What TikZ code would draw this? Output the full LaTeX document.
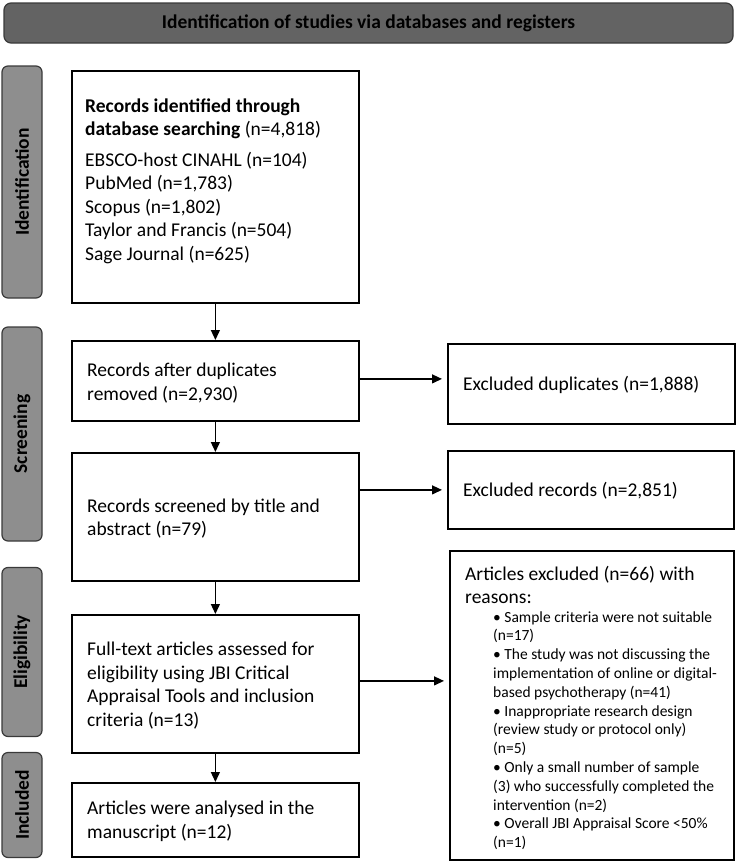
\documentclass[tikz,border=0pt]{standalone}
\usepackage{fontspec}
\setmainfont{Carlito}
\usetikzlibrary{arrows.meta,calc}
\definecolor{hdrgray}{HTML}{636363}
\definecolor{sidegray}{HTML}{8E8E8E}
\definecolor{edgegray}{HTML}{3A3A3A}
\tikzset{
  box/.style={draw=black, line width=1.8pt, fill=white, anchor=north west, inner sep=0pt},
  txt/.style={font=\fontsize{19.5}{23.5}\selectfont, align=left, anchor=west, inner sep=0pt},
  smalltxt/.style={font=\fontsize{15.5}{18.8}\selectfont, align=left, anchor=west, inner sep=0pt},
  hdr/.style={draw=edgegray, fill=hdrgray, line width=1.2pt, rounded corners=7pt,
    font=\bfseries\fontsize{19.5}{22}\selectfont, inner sep=0pt},
  side/.style={draw=edgegray, fill=sidegray, line width=1.2pt, rounded corners=6pt,
    rotate=90, minimum height=40pt, inner sep=0pt,
    font=\bfseries\fontsize{19.5}{22}\selectfont},
  arr/.style={-{Triangle[length=10pt,width=9pt]}, line width=1.3pt},
}
\begin{document}
\begin{tikzpicture}[x=1pt,y=-1pt]
\useasboundingbox (0,0) rectangle (737,862);

% header
\node[hdr, minimum width=729pt, minimum height=40pt] (hdr) at (368.5,23)
  {Identification of studies via databases and registers};

% side labels
\node[side, minimum width=232pt] (sid) at (22,182) {Identification};
\node[side, minimum width=214pt] (sscr) at (22,434) {Screening};
\node[side, minimum width=169pt] (selig) at (22,652) {Eligibility};
\node[side, minimum width=105pt] (sinc) at (22,805) {Included};

% main column boxes
\node[box, minimum width=287pt, minimum height=232pt] (b1) at (71,70) {};
\node[box, minimum width=287pt, minimum height=80pt] (b2) at (71,340) {};
\node[box, minimum width=287pt, minimum height=128pt] (b3) at (71,452) {};
\node[box, minimum width=287pt, minimum height=138pt] (b4) at (71,614) {};
\node[box, minimum width=287pt, minimum height=74pt] (b5) at (71,782) {};

% right column boxes
\node[box, minimum width=287pt, minimum height=80pt] (ed) at (447,343) {};
\node[box, minimum width=286pt, minimum height=78pt] (er) at (447,450) {};
\node[box, minimum width=284pt, minimum height=309pt] (ar) at (449,550) {};

% texts
\node[txt] (b1t) at (85,181)
  {\textbf{Records identified through}\\
   \textbf{database searching} (n=4,818)\\[7pt]
   EBSCO-host CINAHL (n=104)\\
   PubMed (n=1,783)\\
   Scopus (n=1,802)\\
   Taylor and Francis (n=504)\\
   Sage Journal (n=625)};
\node[txt] (b2t) at (87,383) {Records after duplicates\\removed (n=2,930)};
\node[txt] (b3t) at (87,518.5) {Records screened by title and\\abstract (n=79)};
\node[txt] (b4t) at (87,685.5)
  {Full-text articles assessed for\\eligibility using JBI Critical\\Appraisal Tools and inclusion\\criteria (n=13)};
\node[txt] (b5t) at (87,821.5) {Articles were analysed in the\\manuscript (n=12)};
\node[txt] (edt) at (463,385) {Excluded duplicates (n=1,888)};
\node[txt] (ert) at (463,491) {Excluded records (n=2,851)};
\node[txt] (art) at (465,585) {Articles excluded (n=66) with\\reasons:};
\node[smalltxt] (arl) at (493,730.5)
  {• Sample criteria were not suitable\\
   (n=17)\\
   • The study was not discussing the\\
   implementation of online or digital-\\
   based psychotherapy (n=41)\\
   • Inappropriate research design\\
   (review study or protocol only)\\
   (n=5)\\
   • Only a small number of sample\\
   (3) who successfully completed the\\
   intervention (n=2)\\
   • Overall JBI Appraisal Score <50\%\\
   (n=1)};

% connectors
\draw[arr] (b1.south) -- (b2.north);
\draw[arr] (b2.south) -- (b3.north);
\draw[arr] (b3.south) -- (b4.north);
\draw[arr] (b4.south) -- (b5.north);
\draw[arr, shorten >=5pt] ($(b2.east)+(0,-2)$) -- ($(b2.east -| ed.west)+(0,-2)$);
\draw[arr, shorten >=5pt] (er.west -| b3.east) -- (er.west);
\draw[arr, shorten >=5pt] ($(b4.east)+(0,-3)$) -- ($(b4.east -| ar.west)+(0,-3)$);
\end{tikzpicture}
\end{document}
